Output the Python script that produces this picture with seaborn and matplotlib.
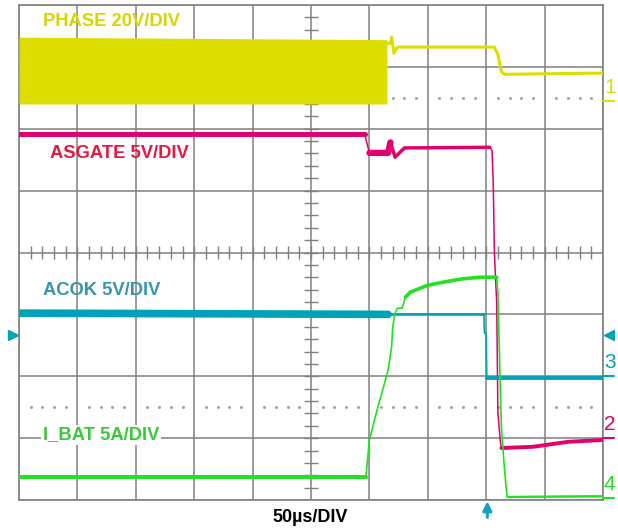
import numpy as np
import pandas as pd
import matplotlib.pyplot as plt
import seaborn as sns

# -------------------------
# Data (time in us, amplitude in divisions, 0 = bottom of screen)
# -------------------------
phase_band_t = [0, 315]
phase_band_hi = [7.48, 7.44]
phase_band_lo = [6.40, 6.40]
phase_t = [315, 318, 319, 321, 323, 325, 407, 410, 413, 416, 500]
phase_v = [7.38, 7.38, 7.48, 7.22, 7.30, 7.32, 7.32, 7.20, 6.92, 6.88, 6.90]

asgate_t = [0, 296, 300, 316, 318, 322, 330, 403, 405, 406, 407, 409, 410, 412, 413, 440, 455, 470, 500]
asgate_v = [5.91, 5.91, 5.61, 5.61, 5.78, 5.54, 5.69, 5.70, 5.65, 5.14, 4.00, 3.18, 1.41, 0.97, 0.84, 0.86, 0.90, 0.94, 0.97]

acok_t = [0, 316, 398, 398.5, 400, 400.5, 500]
acok_v = [3.02, 3.00, 3.00, 2.70, 2.70, 1.97, 1.97]

ibat_t = [0, 297, 300, 305, 309, 313, 316, 319, 320, 322, 324, 328, 331, 335, 350, 363, 378, 394, 406, 409,
          410, 412, 413, 415, 417, 418, 500]
ibat_v = [0.37, 0.37, 0.97, 1.34, 1.62, 1.89, 2.10, 2.47, 2.80, 3.02, 3.10, 3.10, 3.28, 3.36, 3.47, 3.52, 3.57,
          3.60, 3.60, 3.60, 3.34, 1.89, 1.18, 0.65, 0.21, 0.05, 0.06]

channel_names = ["1", "2", "3", "4"]
ground_levels = [6.45, 1.0, 2.0, 0.03]
trig_level = 2.67
trig_time = 401

labels = ["PHASE 20V/DIV", "ASGATE 5V/DIV", "ACOK 5V/DIV", "I_BAT 5A/DIV"]
label_pos = [(20.5, 7.74), (26.5, 5.60), (20.5, 3.39), (20.5, 1.05)]

YEL, PNK, TEAL, GRN = "#dcdd00", "#e0006e", "#00a3b5", "#22e022"
label_colors = ["#d6d600", "#e8173f", "#3796ad", "#39c939"]
chan_colors = [YEL, PNK, TEAL, GRN]
GRID = "#808080"

# -------------------------
# Figure
# -------------------------
sns.set_style("white")
plt.rcParams["font.family"] = ["Liberation Sans", "DejaVu Sans"]

fig = plt.figure(figsize=(6.18, 5.31), dpi=100)
ax = fig.add_axes([19 / 618, 31 / 531, 584 / 618, 495 / 531])
ax.set_xlim(0, 500)
ax.set_ylim(0, 8)
ax.set_xticks(np.arange(0, 501, 50))
ax.set_yticks(np.arange(0, 9, 1))
ax.set_xticklabels([])
ax.set_yticklabels([])
ax.tick_params(length=0)
ax.grid(True, color=GRID, lw=1.1)
ax.set_axisbelow(True)
for s in ax.spines.values():
    s.set_color(GRID)
    s.set_linewidth(1.2)

# center graticule ticks
ax.hlines(np.arange(0.2, 8, 0.2), 244, 256, color=GRID, lw=1.0, zorder=1)
ax.vlines(np.arange(10, 500, 10), 3.9, 4.1, color=GRID, lw=1.0, zorder=1)

# dotted reference lines
dots_x = [d for d in np.arange(10, 500, 10) if d % 50 != 0]
for yy in [1.5, 6.5]:
    ax.plot(dots_x, [yy] * len(dots_x), ls="none", marker="s", ms=1.0, color="#a0a0a0", zorder=1)


def trace(t, v, color, lw, lo=None, hi=None):
    df = pd.DataFrame({"t": t, "v": v})
    if lo is not None:
        df = df[(df.t >= lo) & (df.t <= hi)]
    sns.lineplot(data=df, x="t", y="v", estimator=None, sort=False, color=color,
                 linewidth=lw, ax=ax, zorder=3)


# PHASE
ax.fill_between(phase_band_t, phase_band_lo, phase_band_hi, color=YEL, lw=0, zorder=3)
trace(phase_t, phase_v, YEL, 2.2)

# ASGATE
trace(asgate_t, asgate_v, PNK, 1.1)
trace(asgate_t, asgate_v, PNK, 3.6, 0, 296)
trace(asgate_t, asgate_v, PNK, 4.5, 300, 318)
trace(asgate_t, asgate_v, PNK, 2.5, 318, 403)
trace(asgate_t, asgate_v, PNK, 2.8, 413, 500)

# ACOK
trace(acok_t, acok_v, TEAL, 1.2)
trace(acok_t, acok_v, TEAL, 5.5, 0, 316)
trace(acok_t, acok_v, TEAL, 1.8, 316, 398)
trace(acok_t, acok_v, TEAL, 2.8, 400.5, 500)

# I_BAT
trace(ibat_t, ibat_v, GRN, 1.2)
trace(ibat_t, ibat_v, GRN, 2.9, 0, 297)
trace(ibat_t, ibat_v, GRN, 2.6, 331, 409)
trace(ibat_t, ibat_v, GRN, 1.6, 418, 500)

ax.set_xlabel("")
ax.set_ylabel("")

# channel labels
for txt, (x, y), c in zip(labels, label_pos, label_colors):
    kw = {}
    if txt.startswith("I_BAT"):
        kw["bbox"] = dict(facecolor="white", edgecolor="none", pad=1.0)
    ax.text(x, y, txt, color=c, fontsize=13.2, fontweight="bold", ha="left", va="center", zorder=4, **kw)

# ground markers on the right
for name, g, c in zip(channel_names, ground_levels, chan_colors):
    ax.plot([500, 509], [g, g], color=c, lw=1.5, clip_on=False, zorder=5)
    ax.text(500.8, g + 0.07, name, color=c, fontsize=15, ha="left", va="bottom", clip_on=False)

# trigger level / position markers
ax.plot([-5], [trig_level], marker=">", ms=7, color=TEAL, clip_on=False, ls="none")
ax.plot([505], [trig_level], marker="<", ms=7, color=TEAL, clip_on=False, ls="none")
ax.annotate("", xy=(trig_time, -0.02), xytext=(trig_time, -0.28), xycoords="data",
            arrowprops=dict(arrowstyle="-|>", color="#14a0c0", lw=2.2, mutation_scale=13,
                            shrinkA=0, shrinkB=0),
            annotation_clip=False)

fig.text(310 / 618, 1 - 517.5 / 531, "50µs/DIV", ha="center", va="center",
         fontsize=13, fontweight="bold", color="black")

plt.savefig("out.png", dpi=100)
plt.close()
